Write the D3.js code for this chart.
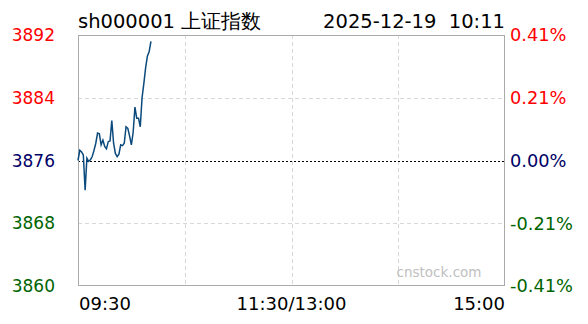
<!DOCTYPE html>
<html><head><meta charset="utf-8">
<script src="https://cdn.jsdelivr.net/npm/d3@7"></script>
<style>body{margin:0;background:#fff}svg{display:block}text{font-family:"DejaVu Sans",Verdana,sans-serif}</style>
</head><body><svg id="c" width="588" height="324"></svg>
<script>
const title = "sh000001 上证指数";
const stamp = "2025-12-19  10:11";
const prevClose = 3876;
const priceTicks = [3860, 3868, 3876, 3884, 3892];
const pctLabels = ["-0.41%", "-0.21%", "0.00%", "0.21%", "0.41%"];
const timeLabels = ["09:30", "11:30/13:00", "15:00"];
const timeTickMinutes = [0, 60, 120, 180, 240];
const prices = [3876.0, 3877.3, 3877.1, 3876.7, 3872.2, 3876.3, 3875.9, 3876.1, 3876.5, 3877.3,
  3878.2, 3879.5, 3879.4, 3878.0, 3878.6, 3877.8, 3877.5, 3878.4, 3878.5, 3881.1,
  3878.2, 3876.9, 3876.5, 3876.8, 3878.0, 3877.9, 3878.2, 3880.3, 3880.1, 3879.1,
  3878.0, 3879.6, 3882.8, 3881.4, 3881.4, 3880.3, 3884.0, 3885.8, 3887.8, 3889.3,
  3889.9, 3891.2];

const svg = d3.select("#c");
const L = 78, R = 505, T = 35, B = 286;
const x = d3.scaleLinear().domain([0, 240]).range([L, R]);
const y = d3.scaleLinear().domain([3860, 3892]).range([B, T]);
const colorFor = v => v > prevClose ? "#ff0000" : (v < prevClose ? "#006400" : "#000066");

// gridlines
svg.append("g").selectAll("line").data(timeTickMinutes.slice(1, 4)).join("line")
  .attr("x1", d => Math.round(x(d)) + 0.5).attr("x2", d => Math.round(x(d)) + 0.5).attr("y1", T).attr("y2", B)
  .attr("stroke", "#d8d8d8").attr("stroke-dasharray", "4,3");
svg.append("g").selectAll("line").data(priceTicks.filter(v => v !== 3860 && v !== 3892)).join("line")
  .attr("x1", L).attr("x2", R).attr("y1", d => Math.round(y(d)) + 0.5).attr("y2", d => Math.round(y(d)) + 0.5)
  .attr("stroke", d => d === prevClose ? "#000" : "#d8d8d8")
  .attr("stroke-dasharray", d => d === prevClose ? "2,2" : "4,3");

// border
svg.append("rect").attr("x", L + 0.5).attr("y", T + 0.5).attr("width", R - L - 1).attr("height", B - T - 1)
  .attr("fill", "none").attr("stroke", "#aaaaaa");

// watermark
svg.append("text").attr("x", 439).attr("y", 277).attr("text-anchor", "middle")
  .attr("font-size", 13.5).attr("fill", "#c0c0c0").text("cnstock.com");

// price line
svg.append("path").datum(prices)
  .attr("d", d3.line().x((d, i) => x(i)).y(d => y(d)))
  .attr("fill", "none").attr("stroke", "#0b4a7d").attr("stroke-width", 1.5);

// left labels
svg.append("g").selectAll("text").data(priceTicks).join("text")
  .attr("x", 55).attr("y", d => y(d)).attr("dy", "0.36em").attr("text-anchor", "end")
  .attr("font-size", 17).attr("fill", d => colorFor(d)).text(d => d);
// right labels
svg.append("g").selectAll("text").data(priceTicks).join("text")
  .attr("x", 510).attr("y", d => y(d)).attr("dy", "0.36em").attr("text-anchor", "start")
  .attr("font-size", 17.8).attr("fill", d => colorFor(d)).text((d, i) => pctLabels[i]);

// time labels
const tpos = [[x(0), "start"], [x(120), "middle"], [x(240), "end"]];
svg.append("g").selectAll("text").data(timeLabels).join("text")
  .attr("x", (d, i) => tpos[i][0] + (i === 0 ? 1 : 0)).attr("y", 310).attr("text-anchor", (d, i) => tpos[i][1])
  .attr("font-size", 18).attr("fill", "#000").text(d => d);

// title
svg.append("text").attr("x", 78).attr("y", 28).attr("font-size", 19.5).attr("fill", "#000").text(title);
svg.append("text").attr("x", 505).attr("y", 28).attr("text-anchor", "end").attr("font-size", 19.5)
  .attr("fill", "#000").style("white-space", "pre").text(stamp);
</script></body></html>
